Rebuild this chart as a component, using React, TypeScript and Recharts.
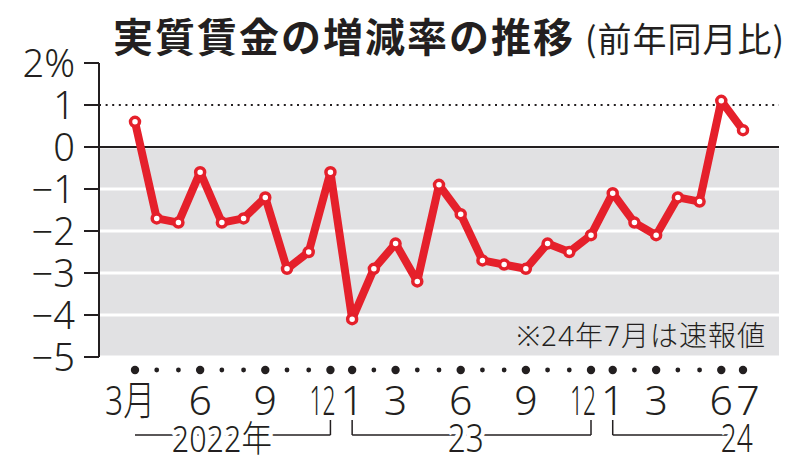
import React from 'react';
import { LineChart, Line, XAxis, YAxis, CartesianGrid, ReferenceLine } from 'recharts';

// ---- data ----
const CATEGORIES = [
  '2022-03', '2022-04', '2022-05', '2022-06', '2022-07', '2022-08', '2022-09', '2022-10', '2022-11', '2022-12',
  '2023-01', '2023-02', '2023-03', '2023-04', '2023-05', '2023-06', '2023-07', '2023-08', '2023-09', '2023-10', '2023-11', '2023-12',
  '2024-01', '2024-02', '2024-03', '2024-04', '2024-05', '2024-06', '2024-07',
];
const REAL_WAGE_CHANGE = [
  0.6, -1.7, -1.8, -0.6, -1.8, -1.7, -1.2, -2.9, -2.5, -0.6,
  -4.1, -2.9, -2.3, -3.2, -0.9, -1.6, -2.7, -2.8, -2.9, -2.3, -2.5, -2.1,
  -1.1, -1.8, -2.1, -1.2, -1.3, 1.1, 0.4,
];
const MONTH_TICK_LABELS = [
  '3月', '', '', '6', '', '', '9', '', '', '12',
  '1', '', '3', '', '', '6', '', '', '9', '', '', '12',
  '1', '', '3', '', '', '6', '7',
];
const Y_TICKS = [-5, -4, -3, -2, -1, 0, 1, 2];
const YEAR_LABELS = ['2022年', '23', '24'];
const YEAR_START_INDEX = [0, 10, 22];

const TITLE = '実質賃金の増減率の推移';
const SUBTITLE = '(前年同月比)';
const NOTE = '※24年7月は速報値';

// ---- layout / style ----
const W = 800;
const H = 469;
const MARGIN = { top: 63, right: 21, bottom: 12, left: 0 };
const Y_AXIS_W = 99;
const X_AXIS_H = 100;
const X_PAD = 36;
const PLOT_W = W - MARGIN.right - MARGIN.left - Y_AXIS_W;
const STEP = (PLOT_W - 2 * X_PAD) / (CATEGORIES.length - 1);

const RED = '#e5202b';
const INK = '#231f20';
const BAND = '#e1e1e3';
const FONT = '"Noto Sans", "Noto Sans CJK JP", sans-serif';
const CJK = '"Noto Sans CJK JP", "Noto Sans", sans-serif';

// stripes between y ticks, top to bottom: 2→1, 1→0 white, below 0 gray
const STRIPE_FILLS = ['#fff', '#fff', BAND, BAND, BAND, BAND, BAND];

// bracket layout per year group (in month steps from group start)
const YEAR_BRACKET_LAYOUT = [
  { open: false, close: true, lineEnd: 9, labelAt: 4, labelLen: 100, fontSize: 36 },
  { open: true, close: true, lineEnd: 11, labelAt: 5.23, labelLen: 36, fontSize: 38 },
  { open: true, close: false, lineEnd: 5.7, labelAt: 5.71, labelLen: 32, fontSize: 38 },
];

const data = CATEGORIES.map((c, i) => ({ month: c, value: REAL_WAGE_CHANGE[i] }));

const fmtY = (v: number) => {
  if (v === 2) return '2%';
  if (v < 0) return '\u2212' + Math.abs(v);
  return String(v);
};

const YTick = (props: any) => {
  const { x, y, payload } = props;
  return (
    <text x={x} y={y} dy={13.5} textAnchor="end" fontFamily={FONT} fontWeight={300} fontSize={38} fill={INK}>
      {fmtY(payload.value)}
    </text>
  );
};

const XTick = (props: any) => {
  const { x, y, index } = props;
  const label = MONTH_TICK_LABELS[index] ?? '';
  const big = label !== '';
  const gi = YEAR_START_INDEX.indexOf(index);
  const lineY = y + 78;
  const topY = y + 63;
  const base = { fontFamily: FONT, fontWeight: 300, fontSize: 41, fill: INK } as const;
  let labelEl: React.ReactNode = null;
  if (label === '12') {
    labelEl = (
      <text x={x + 5} y={y + 58} textAnchor="end" textLength={26} lengthAdjust="spacingAndGlyphs" {...base}>{label}</text>
    );
  } else if (label === '3月') {
    labelEl = (
      <text x={x - 5} y={y + 58} textAnchor="middle" textLength={50} lengthAdjust="spacingAndGlyphs" {...base}>{label}</text>
    );
  } else if (label === '7') {
    labelEl = (
      <text x={x + 5} y={y + 58} textAnchor="middle" {...base}>{label}</text>
    );
  } else if (label) {
    labelEl = (
      <text x={x} y={y + 58} textAnchor="middle" {...base}>{label}</text>
    );
  }
  let group: React.ReactNode = null;
  if (gi >= 0) {
    const L = YEAR_BRACKET_LAYOUT[gi];
    const xEnd = x + L.lineEnd * STEP;
    group = (
      <g>
        {L.open && <line x1={x} y1={topY} x2={x} y2={lineY} stroke={INK} strokeWidth={1.5} />}
        <line x1={x} y1={lineY} x2={xEnd} y2={lineY} stroke={INK} strokeWidth={1.5} />
        {L.close && <line x1={xEnd} y1={topY} x2={xEnd} y2={lineY} stroke={INK} strokeWidth={1.5} />}
        <text x={x + L.labelAt * STEP} y={y + 95} textAnchor="middle" textLength={L.labelLen}
          lengthAdjust="spacingAndGlyphs" fontFamily={FONT} fontWeight={300} fontSize={L.fontSize}
          fill={INK} stroke="#fff" strokeWidth={10} paintOrder="stroke">
          {YEAR_LABELS[gi]}
        </text>
      </g>
    );
  }
  return (
    <g>
      <circle cx={x} cy={y + 13} r={big ? 4.2 : 2.4} fill={INK} />
      {labelEl}
      {group}
    </g>
  );
};

export default function App() {
  return (
    <div style={{ position: 'absolute', left: 0, top: 0, width: W, height: H, background: '#fff' }}>
      <LineChart width={W} height={H} data={data} margin={MARGIN}>
        <CartesianGrid vertical={false} horizontal stroke="#fff" strokeWidth={3}
          horizontalFill={STRIPE_FILLS} fillOpacity={1} />
        <XAxis dataKey="month" height={X_AXIS_H} axisLine={false} tickLine={false} tickSize={0} tickMargin={0}
          interval={0} padding={{ left: X_PAD, right: X_PAD }} tick={XTick} />
        <YAxis width={Y_AXIS_W} domain={[-5, 2]} ticks={Y_TICKS} interval={0} allowDataOverflow
          axisLine={{ stroke: INK, strokeWidth: 2 }} tickLine={{ stroke: INK, strokeWidth: 2 }}
          tickSize={15} tickMargin={9} tick={YTick} />
        <ReferenceLine y={0} stroke={INK} strokeWidth={2} />
        <ReferenceLine y={1} stroke={INK} strokeWidth={2} strokeDasharray="2 4.6" />
        <Line dataKey="value" type="linear" stroke={RED} strokeWidth={8} strokeLinejoin="round"
          isAnimationActive={false}
          dot={{ r: 4.5, fill: '#fff', stroke: RED, strokeWidth: 3.5 }} activeDot={false} />
      </LineChart>
      <svg width={W} height={H} style={{ position: 'absolute', left: 0, top: 0, pointerEvents: 'none' }}>
        <text x={113} y={52} fontFamily={CJK} fontWeight={700} fontSize={40} letterSpacing={2} fill={INK}>{TITLE}</text>
        <text x={585} y={52} fontFamily={CJK} fontWeight={400} fontSize={34} letterSpacing={1} fill={INK}>{SUBTITLE}</text>
        <text x={766} y={346} textAnchor="end" fontFamily={FONT} fontWeight={300} fontSize={28} letterSpacing={1} fill={INK}>{NOTE}</text>
      </svg>
    </div>
  );
}
